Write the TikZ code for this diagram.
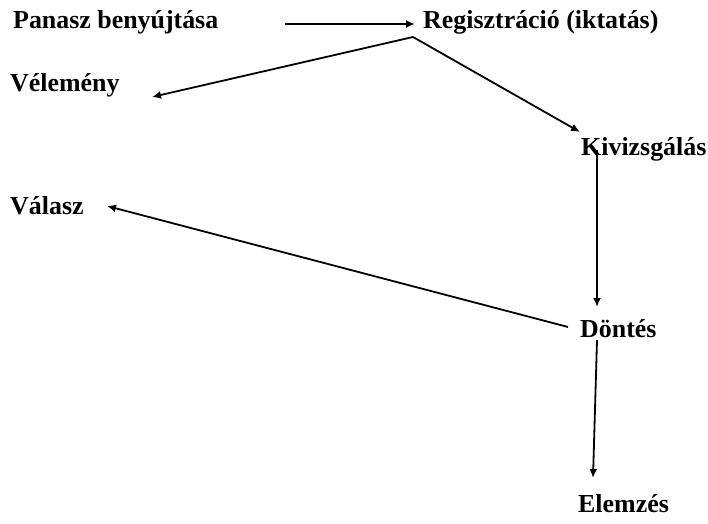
\documentclass[tikz,border=0pt]{standalone}
\usepackage{fontspec}
\setmainfont{Liberation Serif}
\usetikzlibrary{arrows.meta}

\begin{document}
\begin{tikzpicture}[
      x=1bp,y=-1bp,
      stage/.style={anchor=base west,inner sep=0pt,font=\bfseries\fontsize{26}{30}\selectfont},
      trans/.style={line width=1.8bp,->,>={Latex[length=9bp,width=8bp]}}
    ]
    \useasboundingbox (0,0) rectangle (708,524);
    % Draw the stages.
    \node[stage] (panasz) at (13,29) {Panasz benyújtása};
    \node[stage] (reg) at (423,29) {Regisztráció (iktatás)};
    \node[stage] (velemeny) at (10,92) {Vélemény};
    \node[stage] (kiv) at (581,156) {Kivizsgálás};
    \node[stage] (valasz) at (10,215) {Válasz};
    \node[stage] (dontes) at (580,337) {Döntés};
    \node[stage] (elemzes) at (578,512) {Elemzés};
    % Draw the transitions.
    \coordinate (fork) at ([xshift=-10bp,yshift=-8bp]reg.base west);
    \draw[trans] ([xshift=67bp,yshift=5bp]panasz.base east) -- ([xshift=-8bp,yshift=5bp]reg.base west);
    \draw[trans] (fork) -- ([xshift=142bp,yshift=-5bp]velemeny.base west);
    \draw[trans] (fork) -- ([xshift=-1bp,yshift=24bp]kiv.base west);
    \draw[trans] ([xshift=16bp,yshift=6bp]kiv.base west) -- ([xshift=17bp,yshift=30bp]dontes.base west);
    \draw[trans] ([xshift=-12bp,yshift=10bp]dontes.base west) -- ([xshift=97bp,yshift=9bp]valasz.base west);
    \draw[trans] ([xshift=17bp,yshift=-3bp]dontes.base west) -- ([xshift=15bp,yshift=34bp]elemzes.base west);
\end{tikzpicture}
\end{document}
